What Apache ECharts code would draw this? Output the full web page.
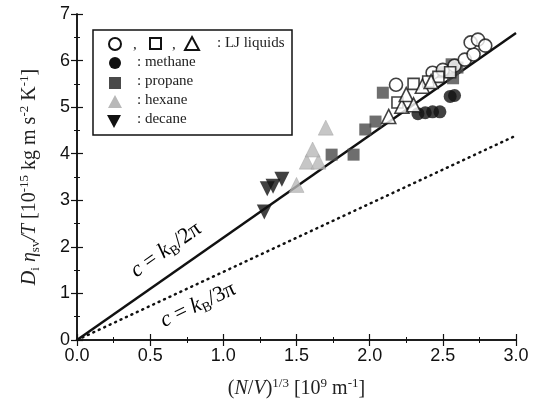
<!DOCTYPE html>
<html><head><meta charset="utf-8">
<script src="https://cdn.jsdelivr.net/npm/echarts@6/dist/echarts.min.js"></script>
<style>html,body{margin:0;padding:0;background:#fff}#c{width:537px;height:403px}</style>
</head><body><div id="c"></div>
<script>
const xTicks = [0.0, 0.5, 1.0, 1.5, 2.0, 2.5, 3.0];
const yTicks = [0, 1, 2, 3, 4, 5, 6, 7];
const ljCircle = [[2.18,5.48],[2.43,5.74],[2.50,5.80],[2.58,5.89],[2.65,6.02],[2.71,6.13],[2.69,6.39],[2.74,6.45],[2.79,6.32]];
const ljSquare = [[2.19,5.10],[2.30,5.50],[2.40,5.55],[2.47,5.65],[2.55,5.75]];
const ljTriangle = [[2.13,4.80],[2.22,5.02],[2.25,5.27],[2.30,5.05],[2.36,5.45],[2.42,5.55]];
const methane = [[2.33,4.86],[2.38,4.88],[2.43,4.90],[2.48,4.90],[2.55,5.23],[2.58,5.25]];
const propane = [[1.74,3.98],[1.89,3.98],[1.97,4.52],[2.04,4.69],[2.09,5.31],[2.50,5.75],[2.56,5.92],[2.60,5.85],[2.57,5.62]];
const hexane = [[1.50,3.33],[1.57,3.83],[1.65,3.83],[1.61,4.09],[1.70,4.56]];
const decane = [[1.28,2.75],[1.30,3.25],[1.34,3.30],[1.40,3.45]];
const lineKB2pi = [[0,0],[3,6.59]];
const lineKB3pi = [[0,0],[3,4.39]];

const serif = 'Liberation Serif';
const sans = 'Liberation Sans';
const chart = echarts.init(document.getElementById('c'));
const axisCommon = {
  axisLine:{show:true,lineStyle:{color:'#111',width:1.5}},
  axisTick:{show:true,inside:true,length:6,lineStyle:{color:'#111',width:1.2}},
  minorTick:{show:true,splitNumber:2,length:3,lineStyle:{color:'#111',width:1}},
  splitLine:{show:false}
};
const rich = {
  i:{fontFamily:serif,fontStyle:'italic',fontSize:20,color:'#222'},
  n:{fontFamily:serif,fontSize:20,color:'#222'},
  sub:{fontFamily:serif,fontSize:13,color:'#222',padding:[11,0,0,0]},
  sup:{fontFamily:serif,fontSize:13,color:'#222',padding:[0,0,11,0]}
};
const richL = {
  i:{fontFamily:serif,fontStyle:'italic',fontSize:22,color:'#222'},
  n:{fontFamily:serif,fontSize:22,color:'#222'},
  sub:{fontFamily:serif,fontSize:14,color:'#222',padding:[12,0,0,0]}
};
chart.setOption({
  animation:false,
  backgroundColor:'#fff',
  grid:{left:77,right:21,top:14,bottom:63,containLabel:false,outerBoundsMode:'none'},
  xAxis:[
    Object.assign({type:'value',min:0,max:3,interval:0.5,position:'bottom',
      axisLabel:{fontFamily:sans,fontSize:18,color:'#111',margin:7,formatter:v=>v.toFixed(1)},
      name:'{n|(}{i|N}{n|/}{i|V}{n|)}{sup|1/3}{n| [10}{sup|9}{n| m}{sup|-1}{n|]}',
      nameLocation:'middle',nameGap:37,nameTextStyle:{rich:rich}},axisCommon),
    Object.assign({type:'value',min:0,max:3,interval:0.5,position:'top',axisLabel:{show:false}},axisCommon)
  ],
  yAxis:[
    Object.assign({type:'value',min:0,max:7,interval:1,position:'left',
      axisLabel:{fontFamily:sans,fontSize:18,color:'#111',margin:7},
      name:'{i|D}{sub|i}{i| η}{sub|sv}{i|/T}{n| [10}{sup|-15}{n| kg m s}{sup|-2}{n| K}{sup|-1}{n|]}',
      nameLocation:'middle',nameGap:35,nameRotate:90,nameTextStyle:{rich:rich}},axisCommon),
    Object.assign({type:'value',min:0,max:7,interval:1,position:'right',axisLabel:{show:false}},axisCommon)
  ],
  series:[
    {type:'line',data:lineKB2pi,symbol:'none',lineStyle:{color:'#111',width:2.5},z:1},
    {type:'line',data:lineKB3pi,symbol:'none',lineStyle:{color:'#111',width:2.5,type:[1,5],cap:'round'},z:1},
    {type:'scatter',data:propane,symbol:'rect',symbolSize:12,itemStyle:{color:'#4a4a4a'},z:3},
    {type:'scatter',data:hexane,symbol:'triangle',symbolSize:15,itemStyle:{color:'#b8b8b8',borderColor:'#999',borderWidth:0.5},z:3},
    {type:'scatter',data:decane,symbol:'triangle',symbolRotate:180,symbolSize:15,itemStyle:{color:'#111'},z:3},
    {type:'scatter',data:methane,symbol:'circle',symbolSize:13,itemStyle:{color:'#111'},z:3},
    {type:'scatter',data:ljCircle,symbol:'circle',symbolSize:13,itemStyle:{color:'#fff',borderColor:'#111',borderWidth:1.6},z:4},
    {type:'scatter',data:ljSquare,symbol:'rect',symbolSize:11,itemStyle:{color:'#fff',borderColor:'#111',borderWidth:1.6},z:4},
    {type:'scatter',data:ljTriangle,symbol:'triangle',symbolSize:14,itemStyle:{color:'#fff',borderColor:'#111',borderWidth:1.6},z:4}
  ],
  graphic:[
    {type:'rect',shape:{x:93,y:30,width:199,height:105},style:{fill:'#fff',stroke:'#111',lineWidth:1.5},z:10},
    {type:'circle',shape:{cx:115,cy:44,r:6},style:{fill:'#fff',stroke:'#111',lineWidth:2},z:11},
    {type:'text',x:133,y:38,style:{text:',',font:'15px '+serif,fill:'#222'},z:11},
    {type:'rect',shape:{x:150,y:38,width:11,height:11},style:{fill:'#fff',stroke:'#111',lineWidth:2},z:11},
    {type:'text',x:172,y:38,style:{text:',',font:'15px '+serif,fill:'#222'},z:11},
    {type:'polygon',shape:{points:[[192,37],[199,50],[185,50]]},style:{fill:'#fff',stroke:'#111',lineWidth:2},z:11},
    {type:'text',x:217,y:36,style:{text:': LJ liquids',font:'15px '+serif,fill:'#222'},z:11},
    {type:'circle',shape:{cx:115,cy:63,r:6},style:{fill:'#111'},z:11},
    {type:'text',x:137,y:55,style:{text:': methane',font:'15px '+serif,fill:'#222'},z:11},
    {type:'rect',shape:{x:109,y:77,width:12,height:12},style:{fill:'#4a4a4a'},z:11},
    {type:'text',x:137,y:74,style:{text:': propane',font:'15px '+serif,fill:'#222'},z:11},
    {type:'polygon',shape:{points:[[115,95],[122,108],[108,108]]},style:{fill:'#b8b8b8'},z:11},
    {type:'text',x:137,y:93,style:{text:': hexane',font:'15px '+serif,fill:'#222'},z:11},
    {type:'polygon',shape:{points:[[107,115],[121,115],[114,128]]},style:{fill:'#111'},z:11},
    {type:'text',x:137,y:112,style:{text:': decane',font:'15px '+serif,fill:'#222'},z:11},
    {type:'text',x:166,y:250,rotation:35*Math.PI/180,
      style:{text:'{i|c}{n| = }{i|k}{sub|B}{n|/2π}',rich:richL,align:'center',verticalAlign:'middle'},z:11},
    {type:'text',x:198,y:305,rotation:25*Math.PI/180,
      style:{text:'{i|c}{n| = }{i|k}{sub|B}{n|/3π}',rich:richL,align:'center',verticalAlign:'middle'},z:11}
  ]
});
</script></body></html>
